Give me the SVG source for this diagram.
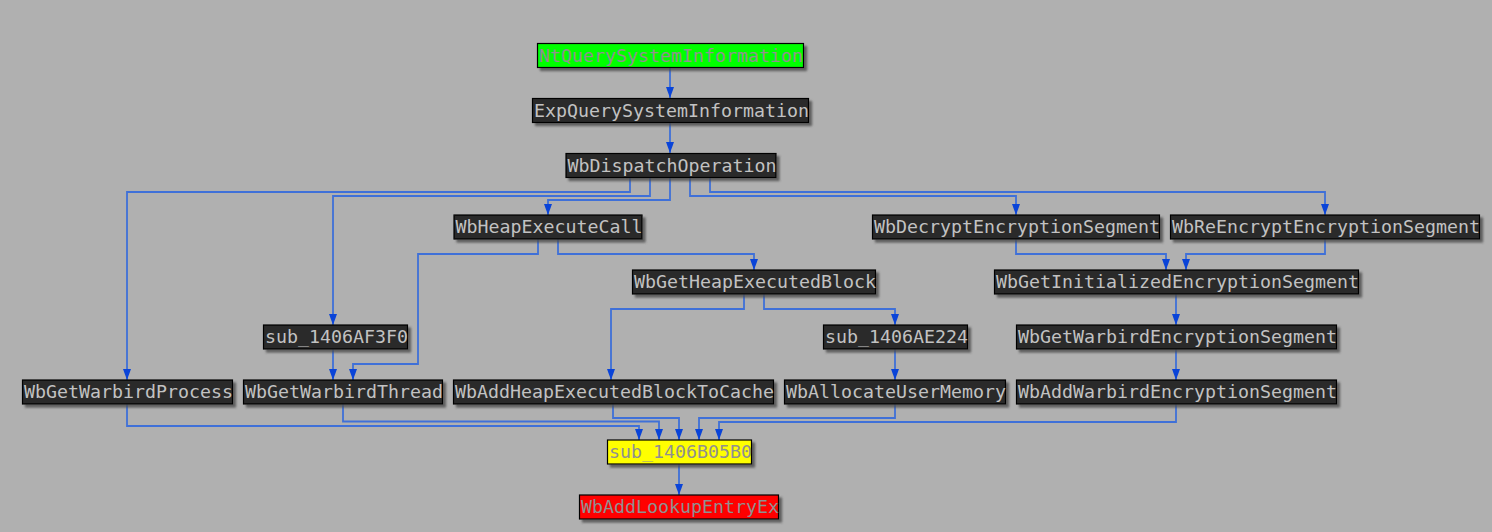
<svg xmlns="http://www.w3.org/2000/svg" width="1492" height="532" viewBox="0 0 1492 532">
<style>
.bg{fill:#b0b0b0}
.box{fill:#2b2b2b;stroke:#000;stroke-width:1.2;filter:url(#sh)}
.green{fill:#00ff00}
.yellow{fill:#ffff00}
.red{fill:#ff0000}
.t{font-family:"DejaVu Sans Mono","Liberation Mono",monospace;font-size:18.27px;fill:#c2c2c2}
.tc{fill:#909090}
.e{fill:none;stroke:#3f70d8;stroke-width:1.8;marker-end:url(#ah)}
</style>
<defs>
<filter id="sh" x="-10%" y="-30%" width="120%" height="180%">
<feDropShadow dx="3" dy="3" stdDeviation="1.3" flood-color="#4a4a4a" flood-opacity="0.8"/>
</filter>
<marker id="ah" viewBox="0 0 11 8" refX="11" refY="4" markerWidth="11" markerHeight="8" markerUnits="userSpaceOnUse" orient="auto">
<path d="M0,0 L11,4 L0,8 z" fill="#0a44d8"/>
</marker>
</defs>
<rect class="bg" x="0" y="0" width="1492" height="532"/>
<g id="connectors">
<polyline class="e" points="670,67 670,98"/>
<polyline class="e" points="670,123 670,153"/>
<polyline class="e" points="630,178 630,192 127,192 127,380"/>
<polyline class="e" points="650,178 650,196 333,196 333,325"/>
<polyline class="e" points="670,178 670,200 548,200 548,215"/>
<polyline class="e" points="690,178 690,196 1016,196 1016,215"/>
<polyline class="e" points="710,178 710,192 1325,192 1325,215"/>
<polyline class="e" points="538,239 538,254 418,254 418,364 353,364 353,380"/>
<polyline class="e" points="558,239 558,254 754,254 754,270"/>
<polyline class="e" points="1016,239 1016,254 1166,254 1166,270"/>
<polyline class="e" points="1325,239 1325,254 1186,254 1186,270"/>
<polyline class="e" points="744,294 744,309 611,309 611,380"/>
<polyline class="e" points="764,294 764,309 895,309 895,325"/>
<polyline class="e" points="333,349 333,380"/>
<polyline class="e" points="895,349 895,380"/>
<polyline class="e" points="1176,294 1176,325"/>
<polyline class="e" points="1176,349 1176,380"/>
<polyline class="e" points="127,404 127,426 639,426 639,440"/>
<polyline class="e" points="343,404 343,421.5 659,421.5 659,440"/>
<polyline class="e" points="613,404 613,418 679,418 679,440"/>
<polyline class="e" points="895,404 895,418 699,418 699,440"/>
<polyline class="e" points="1176,404 1176,422 719,422 719,440"/>
<polyline class="e" points="679,464 679,495"/>
</g>
<g id="n_ntquery"><rect class="box green" x="537.5" y="43.5" width="266" height="24"/><text class="t tc" x="539" y="61.5">NtQuerySystemInformation</text></g>
<g id="n_expquery"><rect class="box" x="532.5" y="98.5" width="276" height="24"/><text class="t" x="534" y="116.5">ExpQuerySystemInformation</text></g>
<g id="n_dispatch"><rect class="box" x="566" y="153.5" width="210" height="24"/><text class="t" x="567.5" y="171.5">WbDispatchOperation</text></g>
<g id="n_heapexec"><rect class="box" x="454" y="215" width="188" height="24"/><text class="t" x="455.5" y="233">WbHeapExecuteCall</text></g>
<g id="n_decrypt"><rect class="box" x="872.5" y="215" width="287" height="24"/><text class="t" x="874" y="233">WbDecryptEncryptionSegment</text></g>
<g id="n_reencrypt"><rect class="box" x="1170.5" y="215" width="309" height="24"/><text class="t" x="1172" y="233">WbReEncryptEncryptionSegment</text></g>
<g id="n_getheapblock"><rect class="box" x="632.5" y="270" width="243" height="24"/><text class="t" x="634" y="288">WbGetHeapExecutedBlock</text></g>
<g id="n_getinit"><rect class="box" x="994.5" y="270" width="364" height="24"/><text class="t" x="996" y="288">WbGetInitializedEncryptionSegment</text></g>
<g id="n_sub3f0"><rect class="box" x="263.5" y="325" width="144" height="24"/><text class="t" x="265" y="343">sub_1406AF3F0</text></g>
<g id="n_sub224"><rect class="box" x="823.5" y="325" width="144" height="24"/><text class="t" x="825" y="343">sub_1406AE224</text></g>
<g id="n_getwbenc"><rect class="box" x="1016.5" y="325" width="320" height="24"/><text class="t" x="1018" y="343">WbGetWarbirdEncryptionSegment</text></g>
<g id="n_process"><rect class="box" x="22.5" y="380" width="210" height="24"/><text class="t" x="24" y="398">WbGetWarbirdProcess</text></g>
<g id="n_thread"><rect class="box" x="243.5" y="380" width="199" height="24"/><text class="t" x="245" y="398">WbGetWarbirdThread</text></g>
<g id="n_addheap"><rect class="box" x="453.5" y="380" width="320" height="24"/><text class="t" x="455" y="398">WbAddHeapExecutedBlockToCache</text></g>
<g id="n_alloc"><rect class="box" x="784.5" y="380" width="221" height="24"/><text class="t" x="786" y="398">WbAllocateUserMemory</text></g>
<g id="n_addwbenc"><rect class="box" x="1016.5" y="380" width="320" height="24"/><text class="t" x="1018" y="398">WbAddWarbirdEncryptionSegment</text></g>
<g id="n_sub5b0"><rect class="box yellow" x="607.5" y="440" width="144" height="24"/><text class="t tc" x="609" y="458">sub_1406B05B0</text></g>
<g id="n_lookup"><rect class="box red" x="579.5" y="495" width="199" height="24"/><text class="t tc" x="581" y="513">WbAddLookupEntryEx</text></g>
</svg>
